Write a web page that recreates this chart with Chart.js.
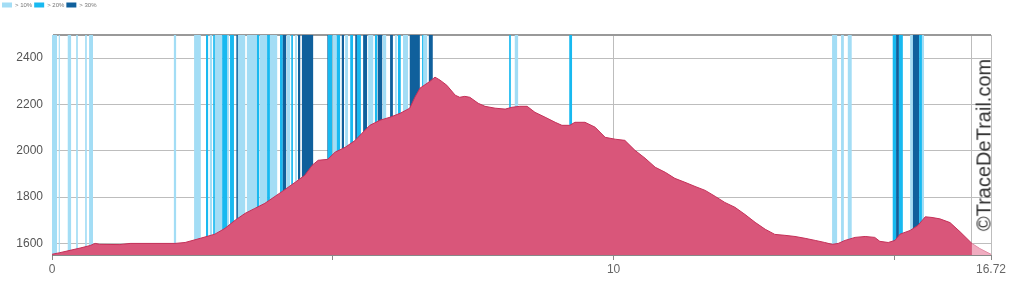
<!DOCTYPE html>
<html><head><meta charset="utf-8">
<script src="https://cdn.jsdelivr.net/npm/chart.js@4"></script>
<style>
html,body{margin:0;padding:0;background:#fff;}
#wrap{position:relative;width:1024px;height:307px;overflow:hidden;}
#c{display:block}
#wm{position:absolute;left:984px;top:145px;transform:translate(-50%,-50%) rotate(-90deg);font:20px "Liberation Sans",Arial,sans-serif;color:#333;white-space:nowrap;}
</style></head><body>
<div id="wrap"><canvas id="c" width="1024" height="307"></canvas><div id="wm">©TraceDeTrail.com</div></div>
<script>
// ---- Data ----
const distKm = [0.00,0.14,0.32,0.50,0.68,0.77,0.85,1.21,1.39,2.19,2.37,2.64,2.90,3.08,3.26,3.44,3.61,3.79,3.97,4.15,4.33,4.50,4.63,4.74,4.91,5.04,5.22,5.40,5.52,5.66,5.84,6.02,6.20,6.37,6.46,6.55,6.73,6.82,6.91,7.03,7.18,7.26,7.35,7.44,7.59,7.71,7.89,8.07,8.19,8.33,8.46,8.60,8.78,8.96,9.08,9.22,9.31,9.49,9.67,9.85,10.03,10.20,10.38,10.56,10.74,10.92,11.09,11.27,11.45,11.63,11.81,11.98,12.16,12.34,12.52,12.70,12.87,13.05,13.23,13.41,13.59,13.76,13.89,14.00,14.12,14.30,14.48,14.65,14.74,14.89,15.01,15.10,15.28,15.42,15.55,15.67,15.81,15.99,16.17,16.38];
const elevM  = [1553,1560,1570,1580,1591,1600,1596,1595,1600,1600,1604,1622,1640,1665,1700,1730,1751,1773,1803,1833,1864,1894,1937,1959,1963,1994,2015,2045,2076,2110,2132,2145,2162,2184,2231,2270,2300,2318,2305,2283,2240,2231,2235,2231,2205,2192,2184,2180,2188,2192,2192,2166,2145,2123,2110,2110,2123,2123,2102,2058,2050,2045,2002,1968,1929,1907,1881,1864,1846,1829,1803,1777,1756,1725,1691,1661,1639,1635,1630,1622,1613,1604,1596,1600,1613,1626,1630,1626,1609,1604,1613,1640,1656,1678,1715,1712,1706,1690,1650,1600];
const tailKm = [16.38,16.52,16.72];
const tailElevM = [1600,1578,1553];

const slope10 = [[0.00,0.09],[0.12,0.14],[0.28,0.34],[0.43,0.46],[0.59,0.62],[0.66,0.73],[2.17,2.21],[2.53,2.65],[2.81,2.85],[2.90,2.94],[2.94,3.03],[3.12,3.15],[3.31,3.44],[3.47,3.65],[3.70,3.83],[3.88,4.01],[4.18,4.24],[4.33,4.36],[5.00,5.07],[5.22,5.27],[5.63,5.72],[5.89,5.95],[6.11,6.14],[6.25,6.34],[6.61,6.68],[8.24,8.30],[13.89,13.98],[14.05,14.10],[14.17,14.24],[15.28,15.33],[15.49,15.53]];
const slope20 = [[2.74,2.78],[2.87,2.90],[3.03,3.12],[3.17,3.24],[3.65,3.69],[3.83,3.88],[4.06,4.11],[4.26,4.29],[4.91,4.99],[5.07,5.13],[5.31,5.36],[5.43,5.50],[5.75,5.79],[6.16,6.21],[6.59,6.61],[8.14,8.17],[9.21,9.26],[14.97,15.03],[15.08,15.15],[15.44,15.49]];
const slope30 = [[3.28,3.31],[4.11,4.17],[4.38,4.42],[4.45,4.65],[4.90,4.91],[5.16,5.20],[5.40,5.43],[5.54,5.61],[5.80,5.88],[6.02,6.07],[6.37,6.55],[6.71,6.78],[15.03,15.08],[15.33,15.44]];
const slopeLabels = ['> 10%','> 20%','> 30%'];

const yMin = 1550, yMax = 2500;
const yTicks = [1600,1800,2000,2200,2400,2500];
const xTicks = [0,5,10,15,16.38,16.72];
const xLabelled = [0,10,16.72];

// ---- Build ----
function bandPoints(intervals){
  const pts=[];
  intervals.forEach(([a,b])=>{pts.push({x:a,y:yMax});pts.push({x:b,y:yMin});});
  return pts;
}
function bandDs(label, intervals, color, order){
  return {type:'line',label,data:bandPoints(intervals),stepped:'before',fill:'start',
    backgroundColor:color,borderColor:color,borderWidth:0,pointRadius:0,order};
}
const profile = distKm.map((x,i)=>({x,y:elevM[i]}));
const tail = tailKm.map((x,i)=>({x,y:tailElevM[i]}));

const legendMargin = {id:'legendMargin',beforeInit(chart){
  const fit = chart.legend.fit;
  chart.legend.fit = function(){ fit.bind(chart.legend)(); this.height += 17; };
}};

new Chart(document.getElementById('c'),{
  type:'line',
  data:{datasets:[
    bandDs(slopeLabels[0],slope10,'rgb(163,221,245)',5),
    bandDs(slopeLabels[1],slope20,'rgb(24,185,240)',4),
    bandDs(slopeLabels[2],slope30,'rgb(16,96,156)',3),
    {label:'profile',data:profile,fill:'start',backgroundColor:'rgb(217,86,122)',borderColor:'rgb(196,48,88)',borderWidth:1,pointRadius:0,tension:0,order:1},
    {label:'tail',data:tail,fill:'start',backgroundColor:'rgb(240,172,192)',borderColor:'rgb(225,140,165)',borderWidth:1,pointRadius:0,tension:0,order:2}
  ]},
  options:{
    responsive:false,animation:false,devicePixelRatio:1,
    layout:{padding:{top:0,right:33,bottom:0,left:0}},
    plugins:{
      tooltip:{enabled:false},
      legend:{display:true,position:'top',align:'start',
        labels:{boxWidth:10,boxHeight:5,padding:2,color:'#777',font:{size:6,family:'"Liberation Sans",Arial,sans-serif'},
          sort:(a,b)=>a.datasetIndex-b.datasetIndex,
          filter:(item)=>item.datasetIndex<3}}
    },
    scales:{
      x:{type:'linear',min:0,max:16.72,z:1,
        afterBuildTicks:(s)=>{s.ticks=xTicks.map(v=>({value:v}));},
        afterFit:(s)=>{s.height=52;},
        border:{display:true,color:'#888',width:1},
        grid:{color:(c)=>'#bdbdbd',lineWidth:1,drawTicks:true,tickLength:5,
          tickColor:(c)=>(c.tick&&c.tick.value===16.38)?'rgba(0,0,0,0)':'#888'},
        ticks:{autoSkip:false,maxRotation:0,padding:2,color:'#666',font:{size:12,family:'"Liberation Sans",Arial,sans-serif'},
          callback:(v)=>xLabelled.includes(v)?String(v):''}
      },
      y:{type:'linear',min:yMin,max:yMax,z:1,
        afterBuildTicks:(s)=>{s.ticks=yTicks.map(v=>({value:v}));},
        afterFit:(s)=>{s.width=52;},
        border:{display:true,color:'#777',width:1},
        grid:{color:(c)=>(c.tick&&c.tick.value===2500)?'#999':'#bdbdbd',lineWidth:(c)=>(c.tick&&c.tick.value===2500)?2:1,drawTicks:false},
        ticks:{padding:9,color:'#555',font:{size:12,family:'"Liberation Sans",Arial,sans-serif'},
          callback:(v)=>v===2500?'':String(v)}
      }
    }
  },
  plugins:[legendMargin]
});
</script>
</body></html>
